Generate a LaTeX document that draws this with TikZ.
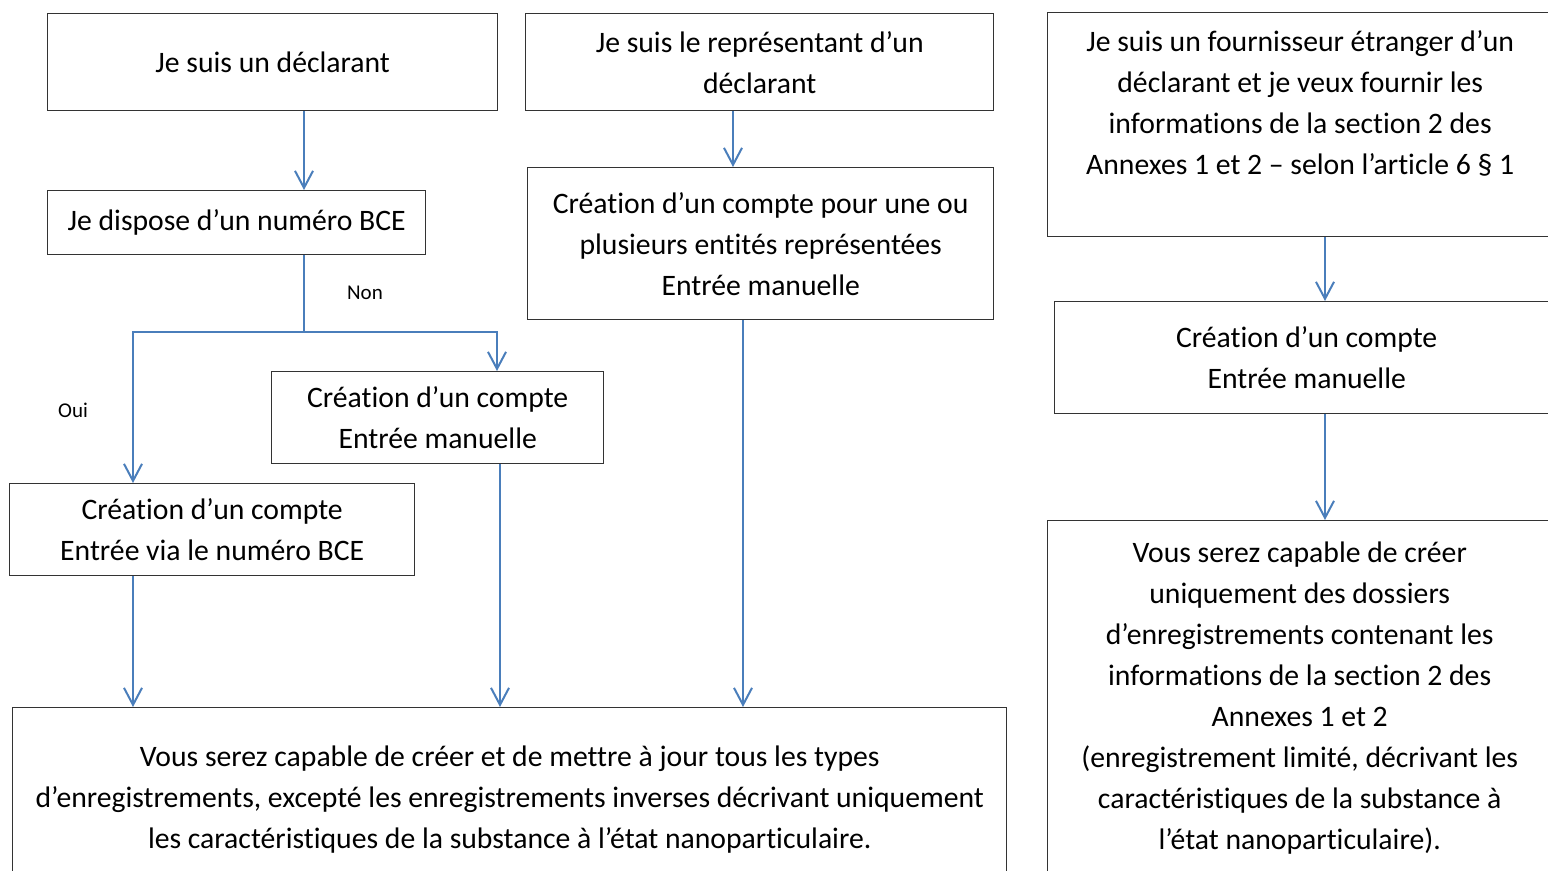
\documentclass[tikz,border=0pt]{standalone}
\usepackage{fontspec}
\setmainfont[Ligatures=NoCommon]{Carlito}
\usepackage{tikz}
\usetikzlibrary{shapes,arrows.meta}
\usetikzlibrary{positioning}
\definecolor{flowblue}{RGB}{74,126,187}

\begin{document}
\begin{tikzpicture}[
    x=0.5pt, y=-0.5pt,
every node/.style = {inner sep=2pt},
    box/.style  = {draw=black!80, line width=0.7pt, align=center,
                   anchor=north west, font=\fontsize{14.85pt}{20.5pt}\selectfont},
    note/.style = {font=\fontsize{10.5pt}{12pt}\selectfont},
    flow/.style = {draw=flowblue, line width=1pt, line join=miter},
    arr/.style  = {flow, -{Straight Barb[length=8.5pt,width=9pt]}}]
\useasboundingbox (0,0) rectangle (1548,871);
% left column
\node[box, minimum width=225pt, minimum height=48.5pt]
      (decl)     at (47,13)   {Je suis un déclarant};
\node[box, minimum width=189pt, minimum height=32pt]
      (dispo)    at (47,190)  {Je dispose d’un numéro BCE};
\node[box, minimum width=166pt, minimum height=46pt]
      (manuel)   at (271,371) {Création d’un compte\\ Entrée manuelle};
\node[box, minimum width=202.5pt, minimum height=46pt]
      (viaBCE)   at (9,483)   {Création d’un compte\\ Entrée via le numéro BCE};
\node[note]                    at (365,293) {Non};
\node[note]                    at (73,410)  {Oui};
% middle column
\node[box, minimum width=234pt, minimum height=48.5pt]
      (repr)     at (525,13)  {Je suis le représentant d’un\\ déclarant};
\node[box, minimum width=233pt, minimum height=76pt]
      (entites)  at (527,167) {Création d’un compte pour une ou\\ plusieurs entités représentées\\ Entrée manuelle};
\node[box, minimum width=497pt, minimum height=92pt]
      (tous)     at (12,707)  {Vous serez capable de créer et de mettre à jour tous les types\\
      d’enregistrements, excepté les enregistrements inverses décrivant uniquement\\
      les caractéristiques de la substance à l’état nanoparticulaire.};
% right column
\node[box, minimum width=252.5pt, minimum height=112pt]
      (fourn)    at (1047,12) {Je suis un fournisseur étranger d’un\\ déclarant et je veux fournir les\\
      informations de la section 2 des\\ Annexes 1 et 2 – selon l’article 6 § 1\\[-4pt] \strut};
\node[box, minimum width=252pt, minimum height=56pt]
      (compteF)  at (1054,301) {Création d’un compte\\ Entrée manuelle};
\node[box, minimum width=252pt, minimum height=177pt]
      (limite)   at (1047,520) {Vous serez capable de créer\\ uniquement des dossiers\\
      d’enregistrements contenant les\\ informations de la section 2 des\\ Annexes 1 et 2\\
      (enregistrement limité, décrivant les\\ caractéristiques de la substance à\\
      l’état nanoparticulaire).};

\coordinate (split) at (304,332);
\coordinate (oui)   at (133,332);
\coordinate (non)   at (497,332);
\coordinate (colE)  at (500,0);
\coordinate (colB)  at (733,0);
\coordinate (colG)  at (743,0);
\coordinate (colR)  at (1325,0);

\draw[arr]  (split |- decl.south) -- (split |- dispo.north);
\draw[flow] (split |- dispo.south) -- (split);
\draw[arr]  (split) -- (oui) -- (oui |- viaBCE.north);
\draw[arr]  (split) -- (non) -- (non |- manuel.north);
\draw[arr]  (oui |- viaBCE.south) -- (oui |- tous.north);
\draw[arr]  (colE |- manuel.south) -- (colE |- tous.north);
\draw[arr]  (colB |- repr.south) -- (colB |- entites.north);
\draw[arr]  (colG |- entites.south) -- (colG |- tous.north);
\draw[arr]  (colR |- fourn.south) -- (colR |- compteF.north);
\draw[arr]  (colR |- compteF.south) -- (colR |- limite.north);
\end{tikzpicture}
\end{document}
